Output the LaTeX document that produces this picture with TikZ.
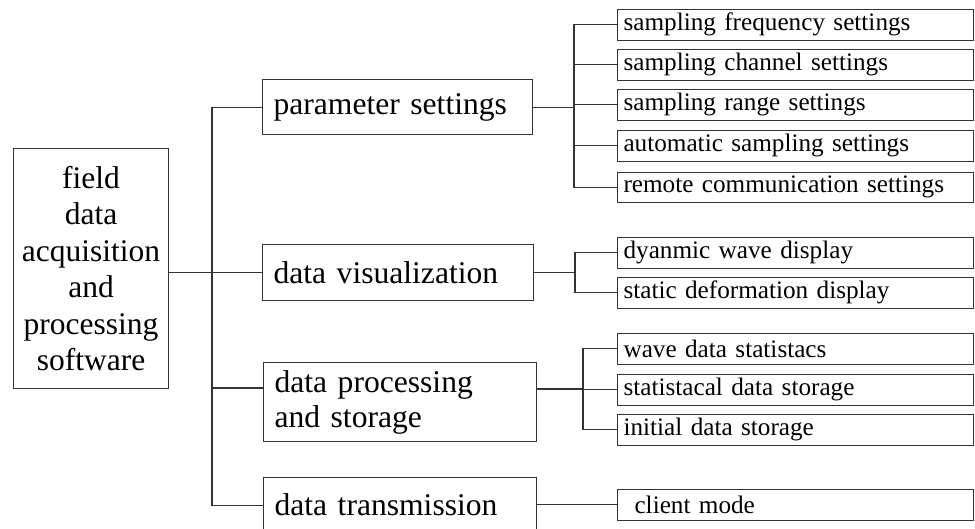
\documentclass[tikz,border=0pt]{standalone}
\usepackage{fontspec}
\setmainfont{Liberation Serif}
\usetikzlibrary{calc}
\begin{document}
\begin{tikzpicture}[x=1pt,y=-1pt,
  box/.style={draw=black!80, line width=1.1pt, rectangle, inner ysep=0pt,
    anchor=north west, text=black},
  leaf/.style={box, font=\fontsize{25.2}{30}\selectfont, inner xsep=6pt,
    minimum width=356pt, text width=344pt, minimum height=30.5pt, align=left},
  mid/.style={box, font=\fontsize{31.6}{35}\selectfont, inner xsep=11pt, align=left},
  link/.style={draw=black!80, line width=1.1pt}]
\useasboundingbox (0,0) rectangle (975,528);

% root
\node[box, font=\fontsize{31.5}{36.4}\selectfont, align=center, inner xsep=0pt,
  minimum width=155pt, minimum height=240pt] (root) at (13,148)
  {field\\data\\acquisition\\and\\processing\\software};

% first level
\node[mid, minimum width=270pt, text width=248pt, minimum height=55pt] (param) at (262,79) {parameter settings};
\node[mid, minimum width=271pt, text width=249pt, minimum height=56pt] (vis) at (262,244) {data visualization};
\node[mid, minimum width=273pt, text width=251pt, minimum height=79pt] (proc) at (263,362) {data processing\\and storage};
\node[mid, minimum width=273pt, text width=251pt, minimum height=55pt] (trans) at (263,477) {data transmission};

% second level
\node[leaf] (s1) at (617,9)   {sampling frequency settings};
\node[leaf] (s2) at (617,49)  {sampling channel settings};
\node[leaf] (s3) at (617,89)  {sampling range settings};
\node[leaf] (s4) at (617,130) {automatic sampling settings};
\node[leaf] (s5) at (617,171.5) {remote communication settings};

\node[leaf] (v1) at (617,237) {dyanmic wave display};
\node[leaf] (v2) at (617,277) {static deformation display};

\node[leaf] (p1) at (617,333) {wave data statistacs};
\node[leaf] (p2) at (617,374) {statistacal data storage};
\node[leaf] (p3) at (617,414) {initial data storage};

\node[leaf] (c1) at (617,489) {\hspace*{11pt}client mode};

% junction columns
\coordinate (trunk) at (212,0);
\coordinate (bs) at (574,0);
\coordinate (bv) at (575,0);
\coordinate (bp) at (583,0);
\coordinate (pjL) at ($(proc.north west)+(0,26)$);
\coordinate (pjR) at ($(proc.north east)+(0,27)$);

% root to first level
\draw[link] (root.east |- vis.west) -- (vis.west);
\draw[link] (param.west) -- (param.west -| trunk) -- (trans.west -| trunk) -- (trans.west);
\draw[link] (pjL -| trunk) -- (pjL);

% parameter settings branch
\draw[link] (param.east) -- (param.east -| bs);
\draw[link] (s1.west) -- (s1.west -| bs) -- (s5.west -| bs) -- (s5.west);
\foreach \n in {s2,s3,s4} \draw[link] (\n.west) -- (\n.west -| bs);

% data visualization branch
\draw[link] (vis.east) -- (vis.east -| bv);
\draw[link] (v1.west) -- (v1.west -| bv) -- (v2.west -| bv) -- (v2.west);

% data processing branch
\draw[link] (pjR) -- (pjR -| bp);
\draw[link] (p1.west) -- (p1.west -| bp) -- (p3.west -| bp) -- (p3.west);
\draw[link] (p2.west) -- (p2.west -| bp);

% data transmission branch
\draw[link] (trans.east |- c1.west) -- (c1.west);
\end{tikzpicture}
\end{document}
